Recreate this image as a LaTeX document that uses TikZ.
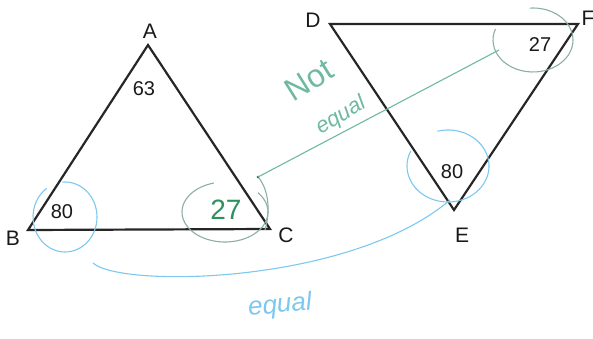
\documentclass[tikz,border=0pt]{standalone}
\usepackage{fontspec}
\setmainfont{Liberation Sans}
\begin{document}
\begin{tikzpicture}[x=1pt,y=-1pt,
  tri/.style={draw=black!85,line width=2.2pt,line join=miter},
  lbl/.style={font=\fontsize{21}{22}\selectfont,text=black!90,inner sep=0pt},
  num/.style={font=\fontsize{20}{22}\selectfont,text=black!90,inner sep=0pt},
  bluepen/.style={draw=bluec,line width=1.1pt},
  greenpen/.style={draw=tealc,line width=1.1pt},
  greypen/.style={draw=greyc,line width=1.1pt},
  hand/.style={inner sep=0pt}]
\definecolor{bluec}{RGB}{125,200,238}
\definecolor{tealc}{RGB}{110,185,160}
\definecolor{greyc}{RGB}{140,175,160}
\definecolor{greenc}{RGB}{45,145,95}
\useasboundingbox (0,0) rectangle (593,339);
% vertices
\coordinate (A) at (148,45);
\coordinate (B) at (28,230);
\coordinate (C) at (270,229);
\coordinate (D) at (330,24);
\coordinate (F) at (578,24);
\coordinate (E) at (454,210);
\draw[tri] (A) -- (B) -- (C) -- cycle;
\draw[tri] (D) -- (F) -- (E) -- cycle;
% labels
\node[lbl] (lA) at (150,31) {A};
\node[lbl] (lB) at (13,238) {B};
\node[lbl] (lC) at (286,235) {C};
\node[lbl] (lD) at (313,20) {D};
\node[lbl] (lF) at (588,18) {F};
\node[lbl] (lE) at (462,235) {E};
\node[num] (n63) at (144,89) {63};
\node[num] (n80a) at (62,212) {80};
\node[num] (n27b) at (540,45) {27};
\node[num] (n80b) at (452,172) {80};
\node[font=\fontsize{28}{30}\selectfont,text=greenc,inner sep=0pt] (n27a) at (226,210) {27};
% angle circles
\draw[bluepen] ([shift={(-95:32 and 35)}]65,217) arc[start angle=-95,end angle=235,x radius=32,y radius=35];
\draw[greypen] ([shift={(-105:43 and 30)}]225,212) arc[start angle=-105,end angle=-400,x radius=43,y radius=30];
\draw[greypen] (258,177) .. controls (268,188) and (271,210) .. (265,230);
\draw[greypen] ([shift={(-95:40 and 32)}]533,40) arc[start angle=-95,end angle=200,x radius=40,y radius=32];
\draw[bluepen] ([shift={(-105:41 and 36)}]448,166) arc[start angle=-105,end angle=205,x radius=41,y radius=36];
% connectors
\coordinate (g1) at (258,177);
\coordinate (g2) at (499,50);
\fill[black!70] (g1) circle (1.3);
\draw[greenpen] (g1) -- (g2);
\coordinate (b1) at (93,263);
\coordinate (b2) at (450,200);
\draw[bluepen] (b1) .. controls (120,288) and (350,285) .. (b2);
% handwritten words
\node[hand,text=tealc,rotate=32,font=\fontsize{32}{32}\selectfont] (nt) at (309,80) {Not};
\node[hand,text=tealc,rotate=31,font=\fontsize{22}{22}\selectfont\itshape] (eq1) at (341,116) {equal};
\node[hand,text=bluec,rotate=5,font=\fontsize{26}{26}\selectfont\itshape] (eq2) at (280,306) {equal};
\end{tikzpicture}
\end{document}
